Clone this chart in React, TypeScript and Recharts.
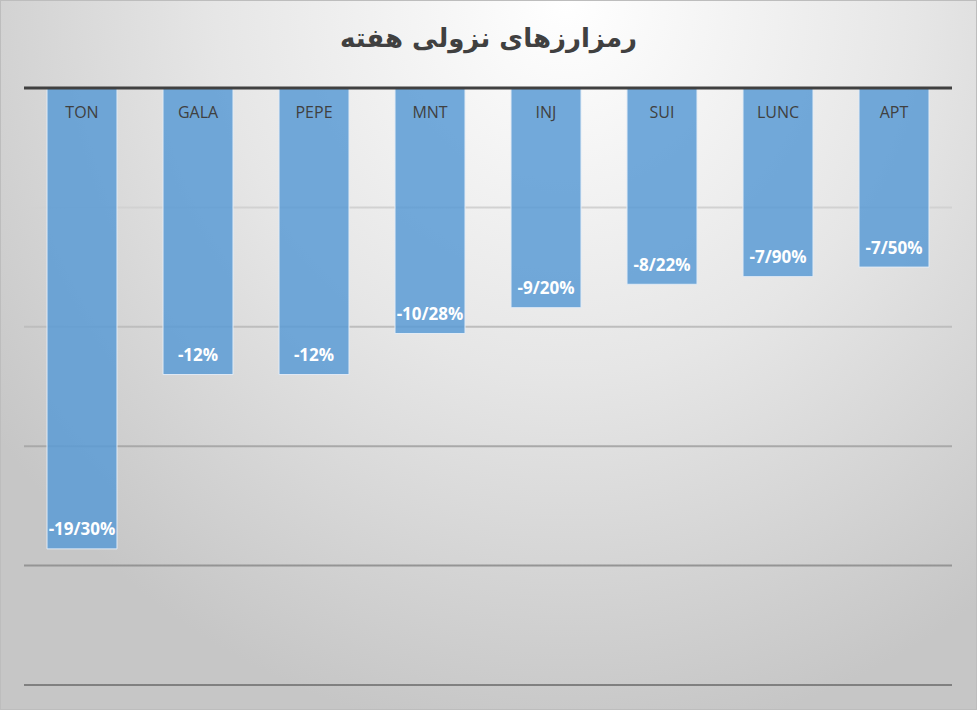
import React from "react";
import { BarChart, Bar, XAxis, YAxis, CartesianGrid, ReferenceLine, LabelList } from "recharts";

const coins = ["TON", "GALA", "PEPE", "MNT", "INJ", "SUI", "LUNC", "APT"];
const weeklyChange = [-19.3, -12, -12, -10.28, -9.2, -8.22, -7.9, -7.5];
const valueLabels = ["-19/30%", "-12%", "-12%", "-10/28%", "-9/20%", "-8/22%", "-7/90%", "-7/50%"];
const yTicks = [-25, -20, -15, -10, -5, 0];
const chartTitle = "رمزارزهای نزولی هفته";

const data = coins.map((coin, i) => ({
  coin,
  change: weeklyChange[i],
  label: valueLabels[i],
}));

const WIDTH = 977;
const HEIGHT = 710;
const MARGIN = { top: 88, right: 26, bottom: 25, left: 23 };

// name sits just under the zero line, inside the bar
const CoinLabel = (props: any) => {
  const { x, y, width, height, value } = props;
  const top = Math.min(y, y + height);
  return (
    <text
      x={x + width / 2}
      y={top + 24}
      textAnchor="middle"
      dominantBaseline="central"
      fill="#404040"
      style={{ fontFamily: "'Open Sans', sans-serif", fontSize: 16 }}
    >
      {value}
    </text>
  );
};

// percentage at the bottom end of each bar
const ChangeLabel = (props: any) => {
  const { x, y, width, height, value } = props;
  const bottom = Math.max(y, y + height);
  return (
    <text
      x={x + width / 2}
      y={bottom - 20}
      textAnchor="middle"
      dominantBaseline="central"
      fill="#ffffff"
      style={{ fontFamily: "'Open Sans', sans-serif", fontSize: 17, fontWeight: 700 }}
    >
      {value}
    </text>
  );
};

export default function App() {
  return (
    <>
      <style>{`body{margin:0}`}</style>
      <div
        style={{
          position: "relative",
          width: WIDTH,
          height: HEIGHT,
          boxSizing: "border-box",
          border: "1px solid #bdbdbd",
          background:
            "radial-gradient(ellipse 72% 105% at 58% 0%, #ffffff 0%, #e6e6e6 50%, #c6c6c6 100%)",
          fontFamily: "'Open Sans', sans-serif",
          overflow: "hidden",
        }}
      >
        <div
          dir="rtl"
          style={{
            position: "absolute",
            top: 22,
            left: 0,
            width: "100%",
            textAlign: "center",
            fontFamily: "'DejaVu Sans', sans-serif",
            fontWeight: 700,
            fontSize: 26,
            color: "#404040",
          }}
        >
          {chartTitle}
        </div>
        <div style={{ position: "absolute", left: 0, top: -1 }}>
          <BarChart width={WIDTH} height={HEIGHT} data={data} margin={MARGIN}>
            <defs>
              <linearGradient id="gridFade" gradientUnits="userSpaceOnUse" x1="0" y1="88" x2="0" y2="685">
                <stop offset="0%" stopColor="#e6e6e6" />
                <stop offset="100%" stopColor="#808080" />
              </linearGradient>
            </defs>
            <CartesianGrid vertical={false} stroke="url(#gridFade)" strokeWidth={2} />
            <XAxis dataKey="coin" hide />
            <YAxis hide domain={[-25, 0]} ticks={yTicks} />
            <Bar
              dataKey="change"
              barSize={70}
              fill="#5b9bd5"
              fillOpacity={0.85}
              stroke="#e2ebf5"
              strokeWidth={1}
              isAnimationActive={false}
            >
              <LabelList dataKey="coin" content={CoinLabel} />
              <LabelList dataKey="label" content={ChangeLabel} />
            </Bar>
            <ReferenceLine y={0} stroke="#404040" strokeWidth={3} />
          </BarChart>
        </div>
      </div>
    </>
  );
}
